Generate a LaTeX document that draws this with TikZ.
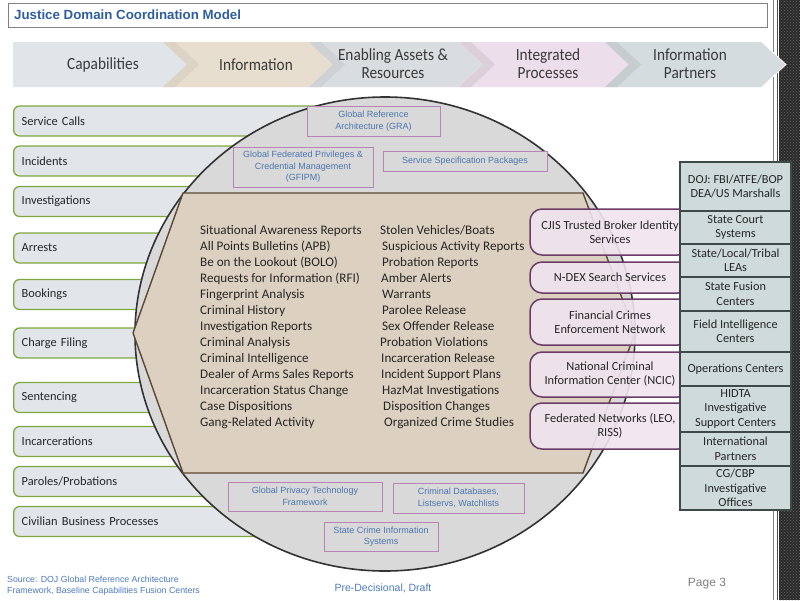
\documentclass[tikz,border=0pt]{standalone}
\usepackage{fontspec}
\setmainfont{Carlito}
\newfontfamily\arialf{Liberation Sans}
\newfontfamily\chevfont[FakeStretch=0.9]{Carlito}
\usetikzlibrary{shapes.geometric,patterns}
\definecolor{titleblue}{HTML}{2F5E9E}
\definecolor{srcblue}{HTML}{4F7BBE}
\definecolor{capfill}{HTML}{E2E6EA}
\definecolor{capgreen}{HTML}{7DA83E}
\definecolor{circfill}{HTML}{D9D9D9}
\definecolor{circline}{HTML}{333333}
\definecolor{hexfill}{HTML}{DCD0C0}
\definecolor{hexline}{HTML}{5C4830}
\definecolor{gbline}{HTML}{B784B5}
\definecolor{gbtext}{HTML}{4A76B0}
\definecolor{pinkfill}{HTML}{F1E5EF}
\definecolor{pinkline}{HTML}{6C3B68}
\definecolor{partfill}{HTML}{CFDADB}
\definecolor{partline}{HTML}{3E4A4A}
\definecolor{chA}{HTML}{DFE5E9}
\definecolor{chB}{HTML}{E8DECF}
\definecolor{chC}{HTML}{DADDDF}
\definecolor{chD}{HTML}{ECDEEA}
\definecolor{chE}{HTML}{D4DCDF}
\definecolor{txt}{HTML}{262626}
\definecolor{chtxt}{HTML}{3A3A3A}
\definecolor{stripdark}{HTML}{2B2B2B}
\begin{document}
\begin{tikzpicture}[x=1pt,y=-1pt,
  capbox/.style={draw=capgreen, fill=capfill, line width=1.3, rounded corners=6, anchor=west,
    minimum height=30, inner xsep=8, inner ysep=0, text width=311, align=left,
    font=\fontsize{12.4}{14}\selectfont, text=txt},
  chevtext/.style={font=\chevfont\fontsize{17}{18}\selectfont, text=chtxt, align=center, inner sep=0},
  infotext/.style={anchor=base west, inner sep=0, font=\fontsize{13.1}{16}\selectfont, text=txt},
  gbox/.style={draw=gbline, fill=circfill, line width=0.9, inner sep=0, align=center,
    font=\arialf\fontsize{9}{11.5}\selectfont, text=gbtext},
  pinkbox/.style={draw=pinkline, fill=pinkfill, fill opacity=0.9, text opacity=1, line width=1.5,
    rounded corners=12, minimum width=160, align=center, inner sep=0,
    font=\fontsize{12.4}{14}\selectfont, text=txt},
  pbox/.style={draw=partline, fill=partfill, line width=1.3, minimum width=111, align=center,
    inner sep=0, font=\fontsize{12.3}{14.5}\selectfont, text=txt}
]
\useasboundingbox (0,0) rectangle (800,600);
\fill[white] (0,0) rectangle (800,600);

% right decorative strip
\fill[stripdark] (779,0) rectangle (800,600);
\fill[pattern=crosshatch dots, pattern color=gray!80!black] (779,0) rectangle (800,600);
\draw[gray, line width=0.8] (773,0) -- (773,600);
\draw[black!70, line width=0.8] (777.5,0) -- (777.5,600);

% title
\node[draw=gray, line width=1, fill=white, minimum width=759, minimum height=24, anchor=north west, inner sep=0] (titlebox) at (8,3) {};
\node[anchor=west, inner sep=0, font=\arialf\bfseries\fontsize{13.3}{15}\selectfont, text=titleblue] (title) at (14,15) {Justice Domain Coordination Model};

% chevrons
\fill[chA] (13,42) -- (163,42) -- (187,64.5) -- (163,87) -- (13,87) -- cycle;
\fill[chB] (163,42) -- (309,42) -- (333,64.5) -- (309,87) -- (163,87) -- (187,64.5) -- cycle;
\fill[chB!95!black] (163,42) -- (175,42) -- (199,64.5) -- (175,87) -- (163,87) -- (187,64.5) -- cycle;
\fill[chC] (309,42) -- (459,42) -- (483,64.5) -- (459,87) -- (309,87) -- (333,64.5) -- cycle;
\fill[chC!95!black] (309,42) -- (321,42) -- (345,64.5) -- (321,87) -- (309,87) -- (333,64.5) -- cycle;
\fill[chD] (459,42) -- (605,42) -- (629,64.5) -- (605,87) -- (459,87) -- (483,64.5) -- cycle;
\fill[chD!93!black] (459,42) -- (471,42) -- (495,64.5) -- (471,87) -- (459,87) -- (483,64.5) -- cycle;
\fill[chE] (605,42) -- (762,42) -- (786,64.5) -- (762,87) -- (605,87) -- (629,64.5) -- cycle;
\fill[chE!93!black] (605,42) -- (617,42) -- (641,64.5) -- (617,87) -- (605,87) -- (629,64.5) -- cycle;
\draw[white, line width=0.8] (762,42) -- (786,64.5) -- (762,87);

\node[chevtext] (c1) at (103,65) {Capabilities};
\node[chevtext] (c2) at (256,65) {Information};
\node[chevtext] (c3) at (393,64) {Enabling Assets \&\\Resources};
\node[chevtext] (c4) at (548,64) {Integrated\\Processes};
\node[chevtext] (c5) at (690,64) {Information\\Partners};

% capability boxes
\node[capbox] (k1) at (13,121) {Service Calls};
\node[capbox] (k2) at (13,161) {Incidents};
\node[capbox] (k3) at (13,201.5) {Investigations};
\node[capbox] (k4) at (13,248) {Arrests};
\node[capbox] (k5) at (13,294.5) {Bookings};
\node[capbox] (k6) at (13,343) {Charge Filing};
\node[capbox] (k7) at (13,397.5) {Sentencing};
\node[capbox] (k8) at (13,441.5) {Incarcerations};
\node[capbox] (k9) at (13,481.5) {Paroles/Probations};
\node[capbox] (k10) at (13,521.5) {Civilian Business Processes};

% big ellipse
\node[ellipse, draw=circline, fill=circfill, line width=1.6, minimum width=500, minimum height=474, inner sep=0] (circ) at (385,334) {};

% hexagon
\draw[fill=hexfill, draw=hexline, line width=1.4] (133,333) -- (183,193) -- (583,193) -- (635,333) -- (583,473) -- (183,473) -- cycle;

% information lists
\foreach \t [count=\i from 0] in {Situational Awareness Reports, All Points Bulletins (APB), Be on the Lookout  (BOLO), Requests for Information  (RFI), Fingerprint  Analysis, Criminal History, Investigation Reports, Criminal Analysis, Criminal Intelligence, Dealer of Arms  Sales Reports, Incarceration Status Change, Case Dispositions, Gang-Related Activity}
  \node[infotext] (L\i) at (200,234.5+16*\i) {\t};
\foreach \x/\t [count=\i from 0] in {380/{Stolen  Vehicles/Boats}, 382/{Suspicious Activity Reports}, 382/{Probation  Reports}, 381/{Amber  Alerts}, 382/{Warrants}, 382/{Parolee Release}, 382/{Sex Offender Release}, 380/{Probation  Violations}, 381/{Incarceration Release}, 381/{Incident  Support  Plans}, 382/{HazMat Investigations}, 383/{Disposition Changes}, 384/{Organized Crime Studies}}
  \node[infotext] (R\i) at (\x,234.5+16*\i) {\t};

% enabling assets boxes
\node[gbox, minimum width=133, minimum height=30] (gra) at (373.5,121) {Global Reference\\Architecture (GRA)};
\node[gbox, minimum width=140, minimum height=40] (gfipm) at (303,167) {Global Federated Privileges \&\\Credential Management\\(GFIPM)};
\node[gbox, minimum width=164, minimum height=20] (ssp) at (465,161) {Service Specification Packages};
\node[gbox, minimum width=154, minimum height=29] (gptf) at (305,496.5) {Global Privacy Technology\\Framework};
\node[gbox, minimum width=131, minimum height=30] (cdl) at (458.5,498) {Criminal  Databases,\\Listservs, Watchlists};
\node[gbox, minimum width=114, minimum height=29] (scis) at (381,536.5) {State Crime Information\\Systems};

% integrated processes
\node[pinkbox, minimum height=46] (cjis) at (610,232) {CJIS Trusted Broker Identity\\Services};
\node[pinkbox, minimum height=31] (ndex) at (610,277.5) {N-DEX Search Services};
\node[pinkbox, minimum height=46] (fin) at (610,322) {Financial Crimes\\Enforcement Network};
\node[pinkbox, minimum height=45] (ncic) at (610,374.5) {National Criminal\\Information Center (NCIC)};
\node[pinkbox, minimum height=46] (fed) at (610,426) {Federated Networks (LEO,\\RISS)};

% information partners
\node[pbox, minimum height=49] (p1) at (735.5,186.5) {DOJ: FBI/ATFE/BOP\\DEA/US Marshalls};
\node[pbox, minimum height=33] (p2) at (735.5,227.5) {State Court\\Systems};
\node[pbox, minimum height=33] (p3) at (735.5,260.5) {State/Local/Tribal\\LEAs};
\node[pbox, minimum height=34] (p4) at (735.5,294) {State Fusion\\Centers};
\node[pbox, minimum height=41] (p5) at (735.5,331.5) {Field Intelligence\\Centers};
\node[pbox, minimum height=34] (p6) at (735.5,369) {Operations Centers};
\node[pbox, minimum height=46] (p7) at (735.5,409) {HIDTA\\Investigative\\Support Centers};
\node[pbox, minimum height=34] (p8) at (735.5,449) {International\\Partners};
\node[pbox, minimum height=44] (p9) at (735.5,488) {CG/CBP\\Investigative\\Offices};

% footer
\node[anchor=west, align=left, inner sep=0, font=\arialf\fontsize{8.8}{11}\selectfont, text=srcblue] (src) at (7,585.5) {Source: DOJ  Global Reference Architecture\\Framework, Baseline Capabilities  Fusion Centers};
\node[inner sep=0, font=\arialf\fontsize{10.5}{12}\selectfont, text=srcblue] (draft) at (383,588) {Pre-Decisional,  Draft};
\node[inner sep=0, font=\arialf\fontsize{12}{14}\selectfont, text=gray] (page) at (707,584) {Page 3};
\end{tikzpicture}
\end{document}
